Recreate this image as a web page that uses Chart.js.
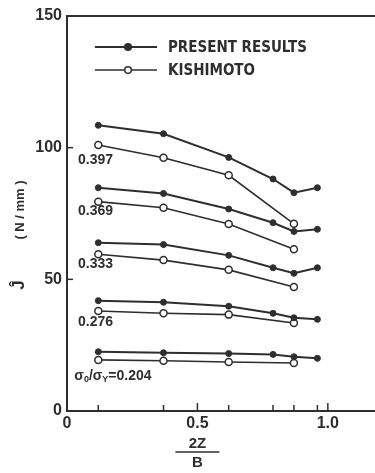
<!DOCTYPE html>
<html>
<head>
<meta charset="utf-8">
<script src="https://cdn.jsdelivr.net/npm/chart.js@4.4.1/dist/chart.umd.min.js"></script>
<style>
  html, body { margin: 0; padding: 0; overflow: hidden; background: #fff; }
  canvas { display: block; }
</style>
</head>
<body>
<canvas id="chart" width="390" height="473"></canvas>
<script>
// x positions (2Z/B)
const presentX = [0.12, 0.37, 0.62, 0.79, 0.87, 0.96];
const kishimotoX = [0.12, 0.37, 0.62, 0.87];

// J values (N/mm), one array per stress ratio
const present397 = [108.5, 105.3, 96.3, 88.1, 82.9, 84.8];
const present369 = [84.8, 82.6, 76.7, 71.5, 68.2, 69.0];
const present333 = [63.9, 63.2, 59.1, 54.4, 52.3, 54.4];
const present276 = [41.9, 41.3, 39.8, 37.1, 35.4, 34.8];
const present204 = [22.5, 22.1, 21.8, 21.5, 20.6, 20.0];

const kishimoto397 = [101.0, 96.2, 89.5, 71.1];
const kishimoto369 = [79.5, 77.2, 71.0, 61.4];
const kishimoto333 = [59.5, 57.3, 53.6, 47.1];
const kishimoto276 = [38.0, 37.1, 36.6, 33.4];
const kishimoto204 = [19.4, 19.1, 18.6, 18.2];

const ratioLabels = ["0.397", "0.369", "0.333", "0.276", "0.204"];
const labelY = [95.3, 76.0, 55.8, 33.8, 13.3];
const xTickValues = [0, 0.5, 1.0];
const yTickValues = [0, 50, 100, 150];
const minorXTicks = [0.12, 0.37, 0.62, 0.79, 0.87, 0.96];

const ink = "#2e2e2e";
const sans = "'Liberation Sans', Arial, sans-serif";
const toPoints = (xs, ys) => xs.map((x, i) => ({ x: x, y: ys[i] }));

const presentSets = [present397, present369, present333, present276, present204];
const kishimotoSets = [kishimoto397, kishimoto369, kishimoto333, kishimoto276, kishimoto204];

const datasets = [];
presentSets.forEach((ys, i) => {
  datasets.push({
    label: "PRESENT RESULTS " + ratioLabels[i],
    data: toPoints(presentX, ys),
    borderColor: ink,
    backgroundColor: ink,
    borderWidth: 2,
    pointRadius: 3,
    pointBorderWidth: 1,
    tension: 0
  });
});
kishimotoSets.forEach((ys, i) => {
  datasets.push({
    label: "KISHIMOTO " + ratioLabels[i],
    data: toPoints(kishimotoX, ys),
    borderColor: ink,
    backgroundColor: "#fff",
    borderWidth: 1.6,
    pointRadius: 3.5,
    pointBorderWidth: 1.5,
    tension: 0
  });
});

const decorations = {
  id: "decorations",
  afterDraw(chart) {
    const ctx = chart.ctx;
    const a = chart.chartArea;
    const xs = chart.scales.x;
    const ys = chart.scales.y;
    ctx.save();
    ctx.strokeStyle = ink;
    ctx.fillStyle = ink;

    // frame
    ctx.lineWidth = 2;
    ctx.strokeRect(a.left, a.top, a.right - a.left, a.bottom - a.top);

    // inner ticks
    ctx.lineWidth = 1.5;
    minorXTicks.concat([0.5, 1.0]).forEach(v => {
      const px = xs.getPixelForValue(v);
      const len = (v === 0.5 || v === 1.0) ? 8 : 6;
      ctx.beginPath();
      ctx.moveTo(px, a.bottom);
      ctx.lineTo(px, a.bottom - len);
      ctx.stroke();
    });
    [50, 100].forEach(v => {
      const py = ys.getPixelForValue(v);
      ctx.beginPath();
      ctx.moveTo(a.left, py);
      ctx.lineTo(a.left + 6, py);
      ctx.stroke();
    });

    // ratio labels
    ctx.font = "bold 14px " + sans;
    ctx.textBaseline = "middle";
    ctx.textAlign = "left";
    const lx = xs.getPixelForValue(0.042);
    for (let i = 0; i < 4; i++) {
      ctx.fillText(ratioLabels[i], lx, ys.getPixelForValue(labelY[i]));
    }
    // sigma0/sigmaY = 0.204
    let cx = xs.getPixelForValue(0.028);
    const cy = ys.getPixelForValue(labelY[4]);
    const part = (t, font, dy) => {
      ctx.font = font;
      ctx.fillText(t, cx, cy + dy);
      cx += ctx.measureText(t).width;
    };
    const main = "bold 14px " + sans;
    const sub = "bold 9px " + sans;
    part("σ", main, 0);
    part("0", sub, 4);
    part("/", main, 0);
    part("σ", main, 0);
    part("Y", sub, 4);
    part("=" + ratioLabels[4], main, 0);

    // legend
    const legendRows = [
      { text: "PRESENT RESULTS", y: 138.2, fill: ink, lw: 2 },
      { text: "KISHIMOTO", y: 129.5, fill: "#fff", lw: 1.6 }
    ];
    legendRows.forEach(r => {
      const py = ys.getPixelForValue(r.y);
      const x0 = xs.getPixelForValue(0.107);
      const x1 = xs.getPixelForValue(0.345);
      const xm = xs.getPixelForValue(0.234);
      ctx.lineWidth = r.lw;
      ctx.beginPath();
      ctx.moveTo(x0, py);
      ctx.lineTo(x1, py);
      ctx.stroke();
      ctx.beginPath();
      ctx.arc(xm, py, 3.3, 0, Math.PI * 2);
      ctx.fillStyle = r.fill;
      ctx.fill();
      ctx.lineWidth = 1.5;
      ctx.stroke();
      ctx.fillStyle = ink;
      ctx.font = "bold 15px 'Liberation Sans Narrow', 'DejaVu Sans Condensed', sans-serif";
      ctx.textAlign = "left";
      ctx.fillText(r.text, xs.getPixelForValue(0.387), py + 1);
    });

    // x axis title: 2Z / B
    const tx = xs.getPixelForValue(0.5);
    ctx.font = "bold 15px " + sans;
    ctx.textAlign = "center";
    ctx.fillText("2Z", tx, 444);
    ctx.lineWidth = 1.5;
    ctx.beginPath();
    ctx.moveTo(tx - 22, 452);
    ctx.lineTo(tx + 22, 452);
    ctx.stroke();
    ctx.fillText("B", tx, 463);

    // y axis title
    ctx.save();
    ctx.translate(20, 0);
    ctx.rotate(-Math.PI / 2);
    ctx.font = "bold 13px " + sans;
    ctx.textAlign = "center";
    ctx.fillText("( N / mm )", -210, 0);
    ctx.font = "bold 17px " + sans;
    ctx.fillText("Ĵ", -285, -1);
    ctx.restore();

    ctx.restore();
  }
};

new Chart(document.getElementById("chart"), {
  type: "line",
  data: { datasets: datasets },
  options: {
    responsive: false,
    animation: false,
    devicePixelRatio: 1,
    events: [],
    layout: { padding: { top: 16, right: 10, left: 0, bottom: 0 } },
    plugins: {
      legend: { display: false },
      tooltip: { enabled: false }
    },
    scales: {
      x: {
        type: "linear",
        min: 0,
        max: 1.2,
        afterBuildTicks: s => { s.ticks = xTickValues.map(v => ({ value: v })); },
        afterFit: s => { s.height = 62; },
        grid: { display: false, drawTicks: false },
        border: { display: false },
        ticks: {
          color: ink,
          padding: 3,
          font: { family: sans, size: 16, weight: "bold" },
          callback: v => (v === 0 ? "0" : v.toFixed(1))
        }
      },
      y: {
        min: 0,
        max: 150,
        afterBuildTicks: s => { s.ticks = yTickValues.map(v => ({ value: v })); },
        afterFit: s => { s.width = 67; },
        grid: { display: false, drawTicks: false },
        border: { display: false },
        ticks: {
          color: ink,
          padding: 5,
          font: { family: sans, size: 16, weight: "bold" }
        }
      }
    }
  },
  plugins: [decorations]
});
</script>
</body>
</html>
